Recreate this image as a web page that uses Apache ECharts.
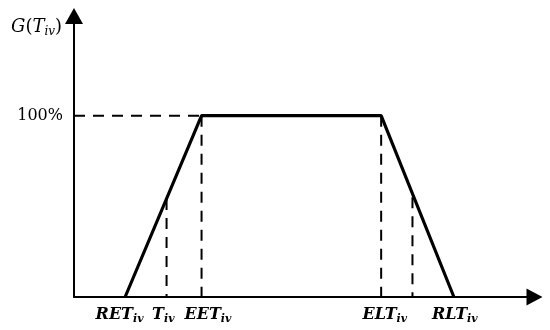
<!DOCTYPE html>
<html>
<head>
<meta charset="utf-8">
<script src="https://cdn.jsdelivr.net/npm/echarts@6/dist/echarts.min.js"></script>
<style>html,body{margin:0;padding:0;background:#fff}#c{width:550px;height:330px}</style>
</head>
<body>
<div id="c"></div>
<script>
// Key abscissae (arbitrary time units, axis 0..100)
var RET = 11.1, T = 20.1, EET = 27.7, ELT = 66.7, T2 = 73.5, RLT = 82.5;
// Membership values (%)
var peak = 100, gT = 54, gT2 = 55;
// Tick labels on x axis: positions and text
var xLabelPos = [9.9, 19.4, 29.1, 67.5, 82.7];
var xLabelMain = ['RET', 'T', 'EET', 'ELT', 'RLT'];
var xLabelSub = ['iv', 'iv', 'iv', 'iv', 'iv'];
var yTicks = [100];
var yTickLabels = ['100%'];

var trapezoid = [[RET, 0], [EET, peak], [ELT, peak], [RLT, 0]];
var dashLines = [
  [[0, peak], [EET, peak]],
  [[EET, peak], [EET, 0]],
  [[ELT, peak], [ELT, 0]],
  [[T, gT], [T, 0]],
  [[T2, gT2], [T2, 0]]
];

var font = 'DejaVu Serif';
var chart = echarts.init(document.getElementById('c'), null, {renderer: 'canvas'});
var series = [{
  type: 'line', data: trapezoid, symbol: 'none', silent: true,
  lineStyle: {color: '#000', width: 3.2}, z: 5
}];
dashLines.forEach(function (d) {
  series.push({
    type: 'line', data: d, symbol: 'none', silent: true,
    lineStyle: {color: '#000', width: 2, type: [11, 8]}, z: 4
  });
});

chart.setOption({
  animation: false,
  backgroundColor: '#fff',
  title: {
    text: '{g|G}{p|(}{g|T}{s|iv}{p|)}',
    left: 6, top: 11,
    textStyle: {
      fontWeight: 'normal',
      rich: {
        g: {fontFamily: font, fontStyle: 'italic', fontWeight: 'normal', fontSize: 18, color: '#000'},
        p: {fontFamily: font, fontWeight: 'normal', fontSize: 18, color: '#000'},
        s: {fontFamily: font, fontStyle: 'italic', fontWeight: 'normal', fontSize: 12, color: '#000', padding: [10, 0, 0, 0]}
      }
    }
  },
  grid: {left: 74, right: 15.5, top: 16, bottom: 33},
  xAxis: {
    type: 'value', min: 0, max: 100,
    splitLine: {show: false},
    axisTick: {show: false},
    axisLine: {show: true, lineStyle: {color: '#000', width: 2}, symbol: ['none', 'triangle'], symbolSize: [17, 16]},
    axisLabel: {
      customValues: xLabelPos,
      margin: 7,
      formatter: function (v) {
        var i = xLabelPos.indexOf(v);
        if (i < 0) return '';
        return '{m|' + xLabelMain[i] + '}{s|' + xLabelSub[i] + '}';
      },
      rich: {
        m: {fontFamily: font, fontStyle: 'italic', fontWeight: 'bold', fontSize: 16, color: '#000'},
        s: {fontFamily: font, fontStyle: 'italic', fontWeight: 'bold', fontSize: 11, color: '#000', padding: [10, 0, 0, 0]}
      }
    }
  },
  yAxis: {
    type: 'value', min: 0, max: 155,
    splitLine: {show: false},
    axisTick: {show: false},
    axisLine: {show: true, lineStyle: {color: '#000', width: 2}, symbol: ['none', 'triangle'], symbolSize: [18, 16]},
    axisLabel: {
      customValues: yTicks,
      margin: 11,
      fontFamily: font, fontSize: 16, color: '#000',
      formatter: function (v) {
        var i = yTicks.indexOf(v);
        return i < 0 ? '' : yTickLabels[i];
      }
    }
  },
  series: series
});
</script>
</body>
</html>
